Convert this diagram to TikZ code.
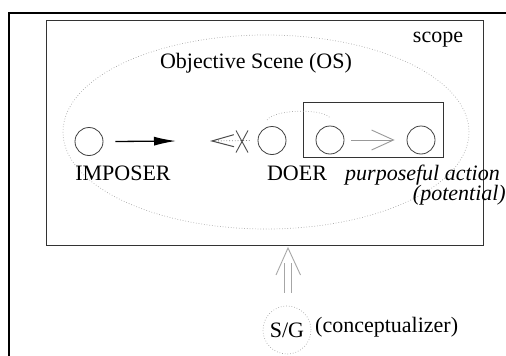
\documentclass[tikz,border=0pt]{standalone}
\usepackage{fontspec}
\setmainfont{Liberation Serif}
\usetikzlibrary{arrows.meta}
\begin{document}
\begin{tikzpicture}[x=1pt,y=-1pt,
  lbl/.style={font=\fontsize{22}{26}\selectfont, inner sep=0pt},
  itl/.style={font=\fontsize{22}{26}\selectfont\itshape, inner sep=0pt},
  agent/.style={circle, draw=black!75, line width=0.8pt, minimum size=28pt, inner sep=0pt},
  faint/.style={dotted, draw=gray!70, line width=0.7pt}]
\useasboundingbox (0,0) rectangle (506,356);
% frames
\draw[line width=2pt] (9,357) -- (9,13) -- (507,13);
\draw[line width=0.9pt, black!80] (46,20.5) rectangle (483,245);
\node[lbl, anchor=base] (scope) at (438,42) {scope};
% objective scene ellipse
\draw[faint] (266,132) ellipse [x radius=203pt, y radius=97pt];
\node[lbl, anchor=base] (os) at (256,68) {Objective Scene (OS)};
% participants
\node[agent] (imp) at (89,141.5) {};
\node[agent] (doer) at (272,140.5) {};
\node[draw=black!80, line width=0.9pt, minimum width=140pt, minimum height=55pt, inner sep=0pt] (actbox) at (373,129.5) {};
\node[agent] (act1) at (330,140) {};
\node[agent] (act2) at (421,140) {};
\node[lbl, anchor=base] (impl) at (123,180) {IMPOSER};
\node[lbl, anchor=base] (doerl) at (297,180) {DOER};
\node[itl, anchor=base west] (actl) at (345,180) {purposeful action};
\node[itl, anchor=base east] (potl) at (506,200) {(potential)};
% imposer force
\coordinate (impend) at (176,141);
\draw[line width=1.3pt, -{Latex[length=22pt,width=9pt]}] ([xshift=12pt]imp.east) -- (impend);
% blocked counter force
\coordinate (blkend) at (210,141);
\draw[dotted, gray, line width=0.8pt, -{Straight Barb[length=22pt,width=12pt,color=black!70,line width=1pt]}] ([xshift=-8pt]doer.west) -- (blkend);
\coordinate (xmark) at (242,141.5);
\draw[black!70, line width=0.9pt] ([shift={(-6pt,11pt)}]xmark) -- ([shift={(6pt,-11pt)}]xmark)
  ([shift={(6pt,11pt)}]xmark) -- ([shift={(-6pt,-11pt)}]xmark);
% doer link to action
\draw[faint] ([yshift=7pt]doer.110) .. controls +(6,-10) and +(-10,-10) .. ([yshift=8pt]act1.north);
% action arrow
\draw[gray!80, line width=0.9pt, -{Straight Barb[length=22pt,width=20pt]}] ([xshift=7pt]act1.east) -- ([xshift=-12pt]act2.west);
% conceptualizer
\node[circle, faint, minimum size=48pt, inner sep=0pt, lbl] (sg) at (287,330) {S/G};
\node[lbl, anchor=base west] (sgl) at (315,332) {(conceptualizer)};
\coordinate (dtip) at (288,248);
\draw[gray!70, line width=0.8pt] ([shift={(-2.5pt,13pt)}]sg.north) -- ++(0,-30)
  ([shift={(4.5pt,13pt)}]sg.north) -- ++(0,-30);
\draw[gray!70, line width=0.9pt] ([shift={(-12pt,-27pt)}]dtip) -- (dtip) -- ([shift={(12.5pt,-27pt)}]dtip);
\end{tikzpicture}
\end{document}
